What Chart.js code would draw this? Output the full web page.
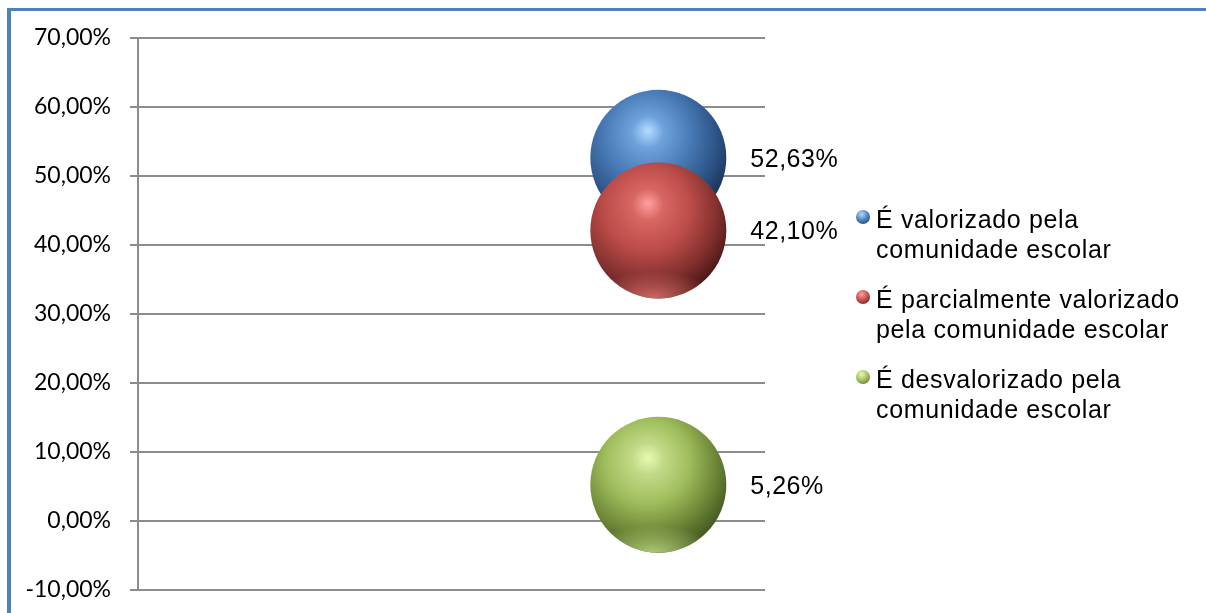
<!DOCTYPE html>
<html>
<head>
<meta charset="utf-8">
<title>Valorização pela comunidade escolar</title>
<script src="https://cdn.jsdelivr.net/npm/chart.js@4.4.1/dist/chart.umd.min.js"></script>
<style>
  html, body { margin: 0; padding: 0; background: #fff; }
  #wrap { position: relative; width: 1206px; height: 613px; overflow: hidden; }
  #frame {
    position: absolute; left: 7px; top: 8px; width: 1300px; height: 700px;
    border-left: 4px solid #4f81bd; border-top: 3px solid #4f81bd;
  }
  #chart { position: absolute; left: 0; top: 0; }
  #legend {
    position: absolute; left: 853px; top: 205px;
    font: 25px "Liberation Sans", Arial, sans-serif; letter-spacing: 0.65px;
    line-height: 29.5px; color: #000;
  }
  .item { position: relative; padding-left: 23px; margin-bottom: 21px; }
  .dot { position: absolute; left: 3px; top: 5px; width: 14px; height: 14px; border-radius: 50%; }
</style>
</head>
<body>
<div id="wrap">
  <div id="frame"></div>
  <canvas id="chart" width="1206" height="613"></canvas>
  <div id="legend"></div>
</div>
<script>
// series names (legend text, split on line breaks)
var seriesNames = [
  "É valorizado pela\ncomunidade escolar",
  "É parcialmente valorizado\npela comunidade escolar",
  "É desvalorizado pela\ncomunidade escolar"
];
var xValues = [1, 1, 1];
var yValues = [52.63, 42.10, 5.26];
var yTicks = { min: -10, max: 70, step: 10 };

var BUBBLE_R = 68;
var GRID = "#8c8c8c";

// sphere shading per series: highlight -> base -> shadow, plus bottom reflection
var shades = [
  { stops: ["#b4dcff", "#6fa2dc", "#4a7cb8", "#2c5386", "#1b365a"], rim: "105,155,210" },
  { stops: ["#ffa09e", "#d86663", "#bd4d4a", "#82302e", "#521a19"], rim: "222,112,108" },
  { stops: ["#e8fbb0", "#c2da88", "#9fbd5c", "#6a8335", "#485c23"], rim: "185,212,125" }
];
// red sits on top of blue
var drawOrder = [2, 1, 3];

function fmt(v) {
  return v.toFixed(2).replace(".", ",") + "%";
}

function sphereFill(c) {
  var s = shades[c.datasetIndex];
  var chart = c.chart;
  if (c.type !== "data" || !chart.chartArea) return s.stops[2];
  var cx = chart.scales.x.getPixelForValue(c.raw.x);
  var cy = chart.scales.y.getPixelForValue(c.raw.y);
  var r = BUBBLE_R;
  var g = chart.ctx.createRadialGradient(cx - r * 0.15, cy - r * 0.4, 0, cx - r * 0.18, cy - r * 0.28, r * 1.3);
  g.addColorStop(0, s.stops[0]);
  g.addColorStop(0.18, s.stops[1]);
  g.addColorStop(0.48, s.stops[2]);
  g.addColorStop(0.8, s.stops[3]);
  g.addColorStop(1, s.stops[4]);
  return g;
}

var datasets = seriesNames.map(function (name, i) {
  return {
    label: name,
    data: [{ x: xValues[i], y: yValues[i] }],
    backgroundColor: sphereFill,
    borderWidth: 0,
    radius: BUBBLE_R,
    order: drawOrder[i]
  };
});

// light reflection along the bottom of each sphere
var sphereRim = {
  id: "sphereRim",
  afterDatasetDraw: function (chart, args) {
    var ctx = chart.ctx;
    var s = shades[args.index];
    args.meta.data.forEach(function (el) {
      var r = el.options.radius;
      ctx.save();
      ctx.beginPath();
      ctx.arc(el.x, el.y, r, 0, Math.PI * 2);
      ctx.clip();
      ctx.translate(el.x - r * 0.08, el.y + r);
      ctx.scale(1, 0.42);
      var g = ctx.createRadialGradient(0, 0, 0, 0, 0, r * 0.95);
      g.addColorStop(0, "rgba(" + s.rim + ",0.9)");
      g.addColorStop(0.45, "rgba(" + s.rim + ",0.5)");
      g.addColorStop(1, "rgba(" + s.rim + ",0)");
      ctx.fillStyle = g;
      ctx.fillRect(-r, -r * 2.5, r * 2, r * 2.5);
      ctx.restore();
    });
  }
};

// value labels to the right of each bubble
var valueLabels = {
  id: "valueLabels",
  afterDatasetsDraw: function (chart) {
    var ctx = chart.ctx;
    ctx.save();
    ctx.font = '25px "Liberation Sans", Arial, sans-serif';
    if ("letterSpacing" in ctx) ctx.letterSpacing = "0.5px";
    ctx.fillStyle = "#000";
    ctx.textAlign = "left";
    ctx.textBaseline = "middle";
    chart.data.datasets.forEach(function (ds, i) {
      chart.getDatasetMeta(i).data.forEach(function (el, j) {
        ctx.fillText(fmt(ds.data[j].y), el.x + el.options.radius + 24, el.y + 2);
      });
    });
    ctx.restore();
  }
};

new Chart(document.getElementById("chart"), {
  type: "bubble",
  data: { datasets: datasets },
  options: {
    responsive: false,
    animation: false,
    events: [],
    devicePixelRatio: 1,
    layout: { autoPadding: false, padding: { top: 38, bottom: 23, left: 0, right: 441 } },
    plugins: { legend: { display: false }, tooltip: { enabled: false } },
    scales: {
      x: { type: "linear", min: 0, max: 1.205, display: false },
      y: {
        min: yTicks.min,
        max: yTicks.max,
        afterFit: function (scale) {
          scale.width = 138;
          // the layout padding already leaves room for the end labels
          scale.paddingTop = 0;
          scale.paddingBottom = 0;
        },
        ticks: {
          stepSize: yTicks.step,
          padding: 19,
          color: "#000",
          font: { family: "Lato", size: 23 },
          callback: function (v) { return fmt(v); }
        },
        grid: { color: GRID, lineWidth: 2, tickLength: 8, tickColor: GRID },
        border: { display: true, color: GRID, width: 2 }
      }
    }
  },
  plugins: [sphereRim, valueLabels]
});

// legend built from the series names
var legend = document.getElementById("legend");
seriesNames.forEach(function (name, i) {
  var item = document.createElement("div");
  item.className = "item";
  var dot = document.createElement("span");
  dot.className = "dot";
  dot.style.background = "radial-gradient(circle at 40% 30%, " + shades[i].stops[0] + " 0%, " +
    shades[i].stops[2] + " 50%, " + shades[i].stops[4] + " 100%)";
  item.appendChild(dot);
  name.split("\n").forEach(function (line) {
    var d = document.createElement("div");
    d.textContent = line;
    item.appendChild(d);
  });
  legend.appendChild(item);
});
</script>
</body>
</html>
